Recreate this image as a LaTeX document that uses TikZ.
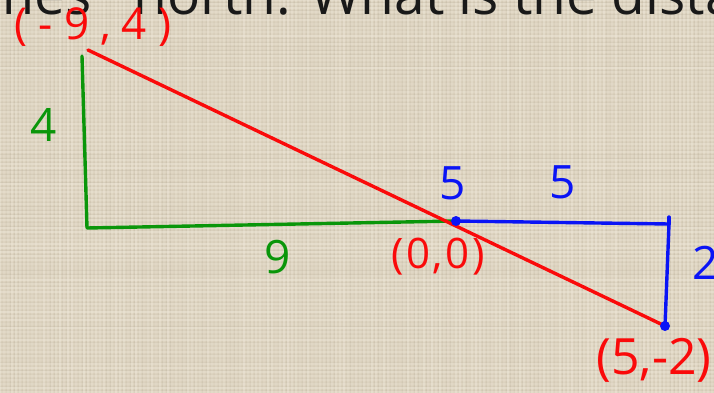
\documentclass[tikz,border=0pt]{standalone}
\usepackage{fontspec}
\setmainfont{Open Sans}
\usetikzlibrary{positioning,calc}
\usepackage{xcolor}
\definecolor{paper}{RGB}{218,208,188}
\definecolor{weave}{RGB}{238,231,216}
\definecolor{thread}{RGB}{186,176,156}
\definecolor{inkred}{RGB}{250,10,10}
\definecolor{inkgreen}{RGB}{10,150,10}
\definecolor{inkblue}{RGB}{10,20,245}

\begin{document}
\begin{tikzpicture}[x=1pt, y=-1pt,
  leg/.style={line width=3.4pt, line join=round, line cap=round},
  pen/.style={inner sep=0pt, font=\fontsize{46}{50}\selectfont},
  dot/.style={circle, fill=inkblue, inner sep=0pt, minimum size=10pt}]
\useasboundingbox (0,0) rectangle (714,393);
\clip (0,0) rectangle (714,393);
\fill[paper] (0,0) rectangle (714,393);
% cloth texture
\pgfmathsetseed{7}
\foreach \i in {0,4,...,714} {
  \pgfmathsetmacro{\op}{0.15+0.4*rnd}
  \draw[weave, line width=1.2pt, opacity=\op] (\i,0) -- (\i,393);
  \pgfmathsetmacro{\op}{0.25*rnd}
  \draw[thread, line width=0.8pt, opacity=\op] (\i+2,0) -- (\i+2,393);
}
\foreach \j in {0,4,...,393} {
  \pgfmathsetmacro{\op}{0.15+0.4*rnd}
  \draw[weave, line width=1.2pt, opacity=\op] (0,\j) -- (714,\j);
  \pgfmathsetmacro{\op}{0.25*rnd}
  \draw[thread, line width=0.8pt, opacity=\op] (0,\j+2) -- (714,\j+2);
}
% question text, cut off at the top
\node[anchor=base west, inner sep=0pt, font=\fontsize{55}{60}\selectfont, text=black!90] (question) at (-17,15) {mes\hspace{28pt} north. What is the dista};

% points
\coordinate (start) at (88,50);
\coordinate (corner) at (87,228);
\coordinate (origin) at (456,221);
\coordinate (bend) at (669,224);
\coordinate (finish) at (665,326);

% green legs
\draw[leg, inkgreen] (82,56) -- (corner) -- (origin);
% blue legs
\draw[leg, inkblue] (origin) -- (bend) -- (finish);
\draw[leg, inkblue] (669,217) -- (bend);
% red path
\draw[leg, inkred] (start) -- (finish);
\node[dot] (o) at (origin) {};
\node[dot] (f) at (finish) {};

% labels
\node[pen, text=inkred, font=\fontsize{44}{50}\selectfont\addfontfeatures{LetterSpace=25}] (startlabel) at (93,27) {(-9,4)};
\node[pen, text=inkgreen] (four) at (44,125) {4};
\node[pen, text=inkgreen] (nine) at (278,257) {9};
\node[pen, text=inkblue] (fiveup) at (453,183) {5};
\node[pen, text=inkblue] (fiveright) at (563,182) {5};
\node[pen, text=inkblue] (two) at (706,263) {2};
\node[pen, text=inkred, font=\fontsize{42}{50}\selectfont\addfontfeatures{LetterSpace=6}] (originlabel) at (438,257) {(0,0)};
\node[pen, text=inkred, font=\fontsize{50}{60}\selectfont] (finishlabel) at (654,360) {(5,-2)};
\end{tikzpicture}
\end{document}
